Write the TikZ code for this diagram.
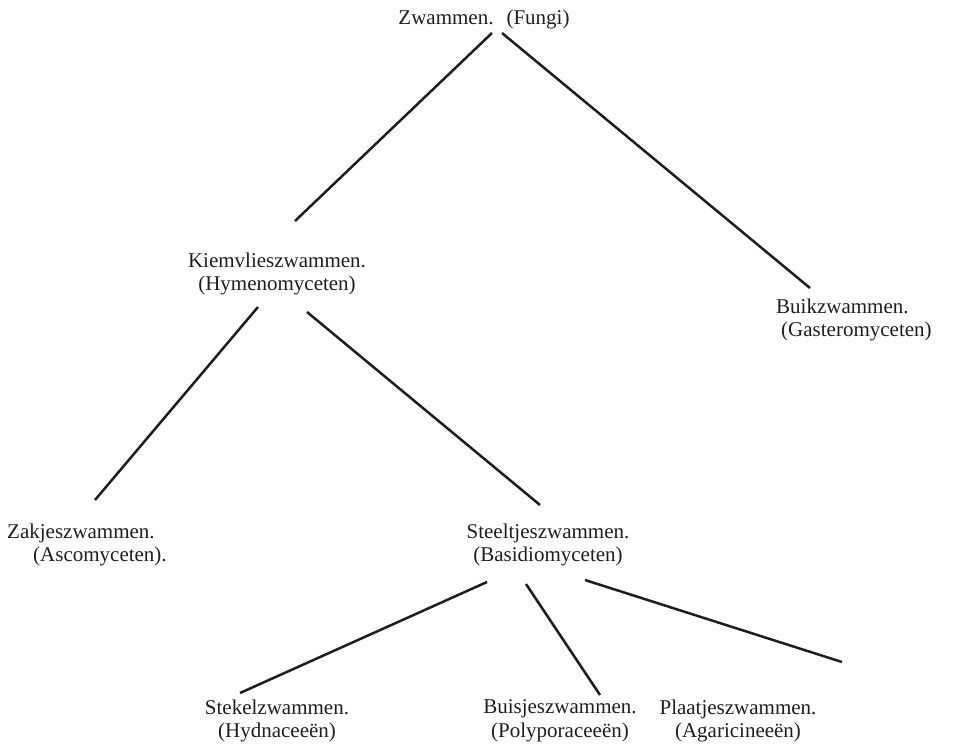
\documentclass[tikz,border=0pt]{standalone}
\usepackage{fontspec}
\setmainfont{Liberation Serif}
\usetikzlibrary{calc}
\definecolor{ink}{HTML}{1E1E1E}
\tikzset{
  lbl/.style={inner sep=0pt, text=ink, font=\fontsize{21}{23.5}\selectfont, align=center},
  lbll/.style={lbl, align=left, anchor=west},
  conn/.style={draw=ink, line width=2.5pt}
}
\begin{document}
\begin{tikzpicture}[x=1pt,y=-1pt]
\useasboundingbox (0,0) rectangle (955,745);
\node[lbl] (fungi) at (484,19) {Zwammen.\hspace{13pt}(Fungi)};
\node[lbl] (kiem) at (277,274) {Kiemvlieszwammen.\\(Hymenomyceten)};
\node[lbll] (buik) at (776,320) {Buikzwammen.\\\hspace*{5pt}(Gasteromyceten)};
\node[lbll] (zak) at (7,545) {Zakjeszwammen.\\\hspace*{26pt}(Ascomyceten).};
\node[lbl] (steel) at (548,545) {Steeltjeszwammen.\\(Basidiomyceten)};
\node[lbl] (stekel) at (277,721) {Stekelzwammen.\\(Hydnaceeën)};
\node[lbl] (buis) at (560,721) {Buisjeszwammen.\\(Polyporaceeën)};
\node[lbl] (plaat) at (738,721) {Plaatjeszwammen.\\(Agaricineeën)};
\draw[conn] ($(fungi)+(8,14)$) -- ($(kiem)+(18,-53)$);
\draw[conn] ($(fungi)+(18,14)$) -- ($(buik.west)+(34,-32)$);
\draw[conn] ($(kiem)+(-19,33)$) -- ($(zak.west)+(88,-45)$);
\draw[conn] ($(kiem)+(30,38)$) -- ($(steel)+(-8,-40)$);
\draw[conn] ($(steel)+(-61,37)$) -- ($(stekel)+(-37,-28)$);
\draw[conn] ($(steel)+(-22,39)$) -- ($(buis)+(40,-26)$);
\draw[conn] ($(steel)+(37,35)$) -- ($(plaat)+(104,-59)$);
\end{tikzpicture}
\end{document}
